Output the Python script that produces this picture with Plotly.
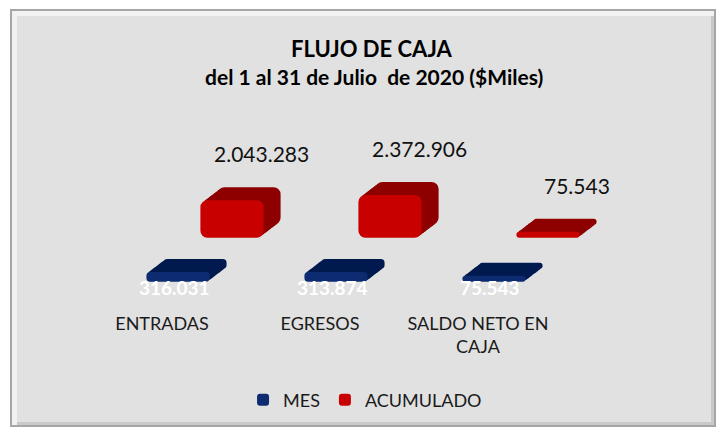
import plotly.graph_objects as go

# ---- data ----
categories = ["ENTRADAS", "EGRESOS", "SALDO NETO EN CAJA"]
tick_labels = ["ENTRADAS", "EGRESOS", "SALDO NETO EN<br>CAJA"]
mes = [316031, 313874, 75543]
acumulado = [2043283, 2372906, 75543]

W, H = 720, 430
FONT = "Lato, 'Open Sans', sans-serif"
SLAB = 0.3e6          # visual slab thickness (style)
SCALE = 16 / 1e6      # px per unit
RNG = [-20 / SCALE, 100 / SCALE]
DEPTH_X, DEPTH_Y, NLAYERS = 17, 13, 9


def fmt(v):
    return f"{v:,}".replace(",", ".")


def xd(l):
    return [l / W, (l + 474) / W]


def yd(y0):
    # zero line at pixel y0, domain 100px above and 20px below
    return [1 - (y0 + 20) / H, 1 - (y0 - 100) / H]


fig = go.Figure()
layout_axes = {}
ax_common = dict(showgrid=False, zeroline=False, showline=False, ticks="",
                 fixedrange=True, categoryorder="array", categoryarray=categories,
                 showticklabels=False)
y_common = dict(showgrid=False, zeroline=False, showline=False, showticklabels=False,
                range=RNG, fixedrange=True)

# series: (values, name, front colour, depth colour, front x-left px, zero-line y px, corner)
series = [
    (acumulado, "ACUMULADO", "#c80000", "#8e0000", 153, 233, 7),
    (mes, "MES", "#0d2b70", "#001a4f", 99, 277, 4),
]

idx = 0
front_axes = {}
for vals, name, fcol, dcol, xl, y0, cr in series:
    for k in list(range(NLAYERS, 0, -1)) + [0]:
        idx += 1
        xa = "x" if idx == 1 else f"x{idx}"
        ya = "y" if idx == 1 else f"y{idx}"
        dx = DEPTH_X * k / NLAYERS
        dy = DEPTH_Y * k / NLAYERS
        front = k == 0
        fig.add_trace(go.Bar(
            x=categories, y=[v + SLAB for v in vals], base=[-SLAB] * len(vals),
            xaxis=xa, yaxis=ya,
            marker=dict(color=fcol if front else dcol, line=dict(width=0), cornerradius=cr),
            width=0.4, name=name, showlegend=front, hoverinfo="skip",
            legendrank=1 if name == "MES" else 2,
        ))
        xkey = "xaxis" if idx == 1 else f"xaxis{idx}"
        ykey = "yaxis" if idx == 1 else f"yaxis{idx}"
        layout_axes[xkey] = dict(domain=xd(xl + dx), anchor=ya, **ax_common)
        layout_axes[ykey] = dict(domain=yd(y0 - dy), anchor=xa, **y_common)
        if front:
            front_axes[name] = (xa, ya, xkey)

# category tick labels on the front MES axis
mx_key = front_axes["MES"][2]
layout_axes[mx_key].update(showticklabels=True, tickmode="array", tickvals=categories,
                           ticktext=tick_labels,
                           tickfont=dict(family=FONT, size=18, color="#1a1a1a"),
                           ticklabelstandoff=14, ticklabelshift=-16)

fig.update_layout(
    width=W, height=H, margin=dict(l=0, r=0, t=0, b=0),
    paper_bgcolor="white", plot_bgcolor="rgba(0,0,0,0)",
    barmode="overlay", font=dict(family=FONT, size=18, color="#1a1a1a"),
    legend=dict(orientation="h", x=0.507, xanchor="center", y=1 - 400 / H, yanchor="middle",
                font=dict(size=18, color="#1a1a1a"), bgcolor="rgba(0,0,0,0)",
                traceorder="normal", itemwidth=30),
    showlegend=True,
    **layout_axes,
)

# frame
fig.add_shape(type="rect", xref="paper", yref="paper", x0=10 / W, x1=716 / W,
              y0=1 - 427 / H, y1=1 - 9 / H, fillcolor="#a6a6a6", line_width=0, layer="below")
fig.add_shape(type="rect", xref="paper", yref="paper", x0=12 / W, x1=714 / W,
              y0=1 - 425 / H, y1=1 - 11 / H, fillcolor="#f2f2f2", line_width=0, layer="below")
fig.add_shape(type="rect", xref="paper", yref="paper", x0=17 / W, x1=714 / W,
              y0=1 - 425 / H, y1=1 - 16 / H, fillcolor="#c9c9c9", line_width=0, layer="below")
fig.add_shape(type="rect", xref="paper", yref="paper", x0=17 / W, x1=711 / W,
              y0=1 - 422 / H, y1=1 - 16 / H, fillcolor="#e1e1e1", line_width=0, layer="below")

# titles
fig.add_annotation(x=372 / W, y=1 - 48 / H, xref="paper", yref="paper", showarrow=False,
                   text="<b>FLUJO DE CAJA</b>", font=dict(size=22, color="#000000"),
                   xanchor="center", yanchor="middle")
fig.add_annotation(x=374 / W, y=1 - 77 / H, xref="paper", yref="paper", showarrow=False,
                   text="<b>del 1 al 31 de Julio  de 2020 ($Miles)</b>",
                   font=dict(size=21, color="#000000"), xanchor="center", yanchor="middle")

# value labels
rxa, rya, _ = front_axes["ACUMULADO"]
bxa, bya, _ = front_axes["MES"]
for c, v in zip(categories, acumulado):
    fig.add_annotation(x=c, y=v, xref=rxa, yref=rya, text=fmt(v), showarrow=False,
                       xanchor="center", yanchor="bottom", xshift=29, yshift=32,
                       font=dict(size=21, color="#111111"))
for c, v in zip(categories, mes):
    fig.add_annotation(x=c, y=0, xref=bxa, yref=bya, text=f"<b>{fmt(v)}</b>", showarrow=False,
                       xanchor="center", yanchor="middle", xshift=-4, yshift=-10,
                       font=dict(size=19, color="#ffffff"))

fig.write_html("out.html")
